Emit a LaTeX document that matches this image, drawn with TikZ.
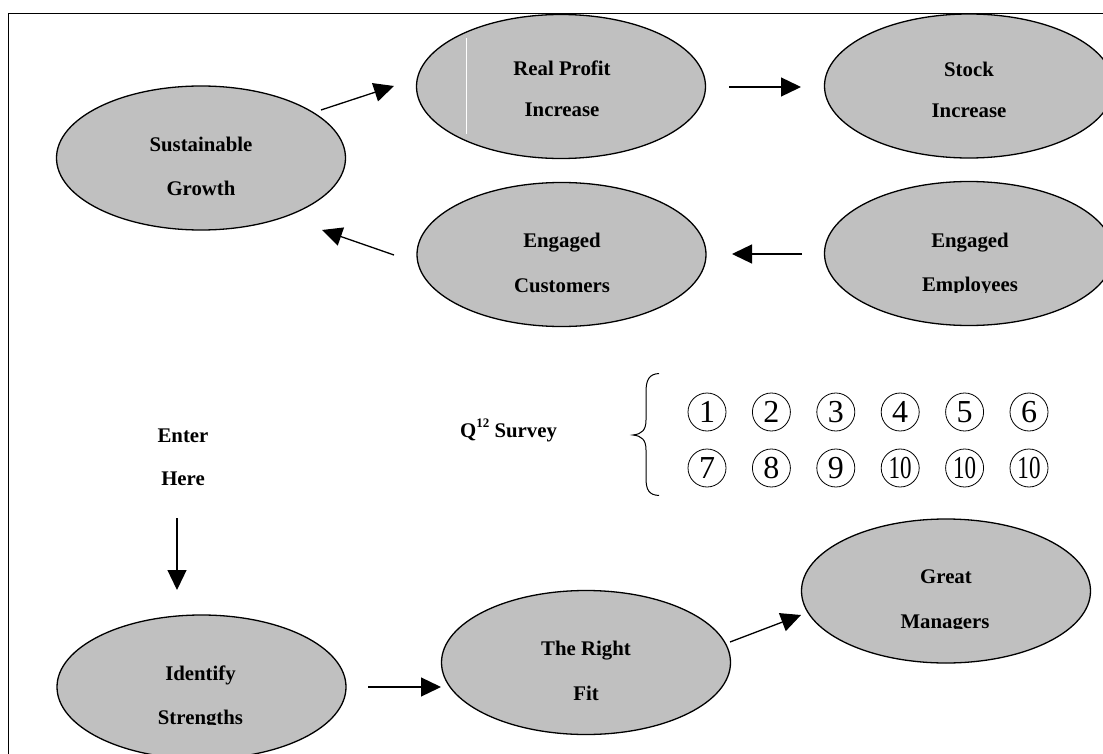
\documentclass[tikz,border=0pt]{standalone}
\usepackage{fontspec}
\setmainfont{Liberation Serif}
\usepackage{graphicx}
\usetikzlibrary{shapes.geometric,arrows.meta}

\definecolor{ovalgray}{RGB}{192,192,192}

\tikzset{
  oval/.style={ellipse, draw=black, line width=1.3pt, fill=ovalgray,
    minimum width=289pt, minimum height=144pt, inner sep=0pt},
  lbl/.style={font=\bfseries\fontsize{20.8}{24}\selectfont, inner sep=0pt, anchor=base},
  arr/.style={line width=1.3pt, -{Triangle[length=20pt,width=19pt]}},
  num/.style={circle, draw=black, line width=0.8pt, minimum size=38pt,
    inner sep=0pt, font=\fontsize{32}{32}\selectfont},
  frameline/.style={line width=1.4pt},
}

\newcommand{\ten}{\scalebox{0.72}[1]{10}}

\begin{document}
\begin{tikzpicture}[x=1pt,y=-1pt]
  \useasboundingbox (0,0) rectangle (1103,754);
  \clip (0,0) rectangle (1103,754);

  % frame
  \draw[frameline] (8.3,1000) -- (8.3,13.8) -- (1200,13.8);

  % ovals
  \node[oval] (sg) at (201,158) {};
  \node[oval] (rp) at (561,86.5) {};
  \node[oval] (st) at (969,86) {};
  \node[oval] (ec) at (561.5,254.5) {};
  \node[oval] (ee) at (969,253.5) {};
  \node[oval] (gm) at (946,591) {};
  \node[oval] (rf) at (586,662.5) {};
  \node[oval] (is) at (201.5,687) {};

  % thin white stroke inside the profit oval
  \draw[white, line width=1pt] (466,38) -- (466,134);

  % oval texts
  \node[lbl] (sg1) at (201,151.7) {Sustainable};
  \node[lbl] (sg2) at (201,196) {Growth};
  \node[lbl] (rp1) at (562,76) {Real Profit};
  \node[lbl] (rp2) at (562,117) {Increase};
  \node[lbl] (st1) at (969,76.7) {Stock};
  \node[lbl] (st2) at (969,117.3) {Increase};
  \node[lbl] (ec1) at (562,247.7) {Engaged};
  \node[lbl] (ec2) at (562,292.7) {Customers};
  \node[lbl] (ee1) at (970,247.3) {Engaged};
  \begin{scope}
    \clip (850,260) rectangle (1090,292.5);
    \node[lbl] (ee2) at (970,291.7) {Employees};
  \end{scope}
  \node[lbl] (gm1) at (946,583) {Great};
  \begin{scope}
    \clip (850,600) rectangle (1050,628.5);
    \node[lbl] (gm2) at (945,628) {Managers};
  \end{scope}
  \node[lbl] (rf1) at (586,655) {The Right};
  \node[lbl] (rf2) at (586,700) {Fit};
  \node[lbl] (is1) at (200.5,680) {Identify};
  \begin{scope}
    \clip (100,690) rectangle (300,724.5);
    \node[lbl] (is2) at (200.5,724) {Strengths};
  \end{scope}

  % entry text
  \node[lbl] (en1) at (183,442) {Enter};
  \node[lbl] (en2) at (183,485) {Here};

  % survey title
  \node[lbl, anchor=base west] (q12) at (460,437)
    {Q\raisebox{10pt}{\fontsize{13}{13}\selectfont 12} Survey};

  % brace
  \draw[line width=1pt]
    (659,373.5) .. controls (649,374) and (646,380) .. (646,392)
    -- (646,420) .. controls (646,430) and (642,434) .. (633,435)
    .. controls (642,436) and (646,440) .. (646,450)
    -- (646,478) .. controls (646,490) and (649,495) .. (659,495.5);

  % the twelve questions
  \foreach \i/\t in {0/1,1/2,2/3,3/4,4/5,5/6}
    \node[num] (n\t) at (707+64.4*\i,412) {\t};
  \foreach \i/\t/\k in {0/7/7,1/8/8,2/9/9,3/\ten/10,4/\ten/11,5/\ten/12}
    \node[num] (n\k) at (707+64.4*\i,468) {\t};

  % connector end points
  \coordinate (a1s) at (321,110);  \coordinate (a1e) at (394,86);
  \coordinate (a2s) at (729,87);   \coordinate (a2e) at (801,87);
  \coordinate (a3s) at (802,254);  \coordinate (a3e) at (732,254);
  \coordinate (a4s) at (394,255);  \coordinate (a4e) at (322,230);
  \coordinate (a5s) at (177,518);  \coordinate (a5e) at (177,590);
  \coordinate (a6s) at (368,687);  \coordinate (a6e) at (441,687);
  \coordinate (a7s) at (730,642);  \coordinate (a7e) at (801,615);

  \draw[arr] (a1s) -- (a1e);
  \draw[arr] (a2s) -- (a2e);
  \draw[arr] (a3s) -- (a3e);
  \draw[arr] (a4s) -- (a4e);
  \draw[arr] (a5s) -- (a5e);
  \draw[arr] (a6s) -- (a6e);
  \draw[arr] (a7s) -- (a7e);
\end{tikzpicture}
\end{document}
